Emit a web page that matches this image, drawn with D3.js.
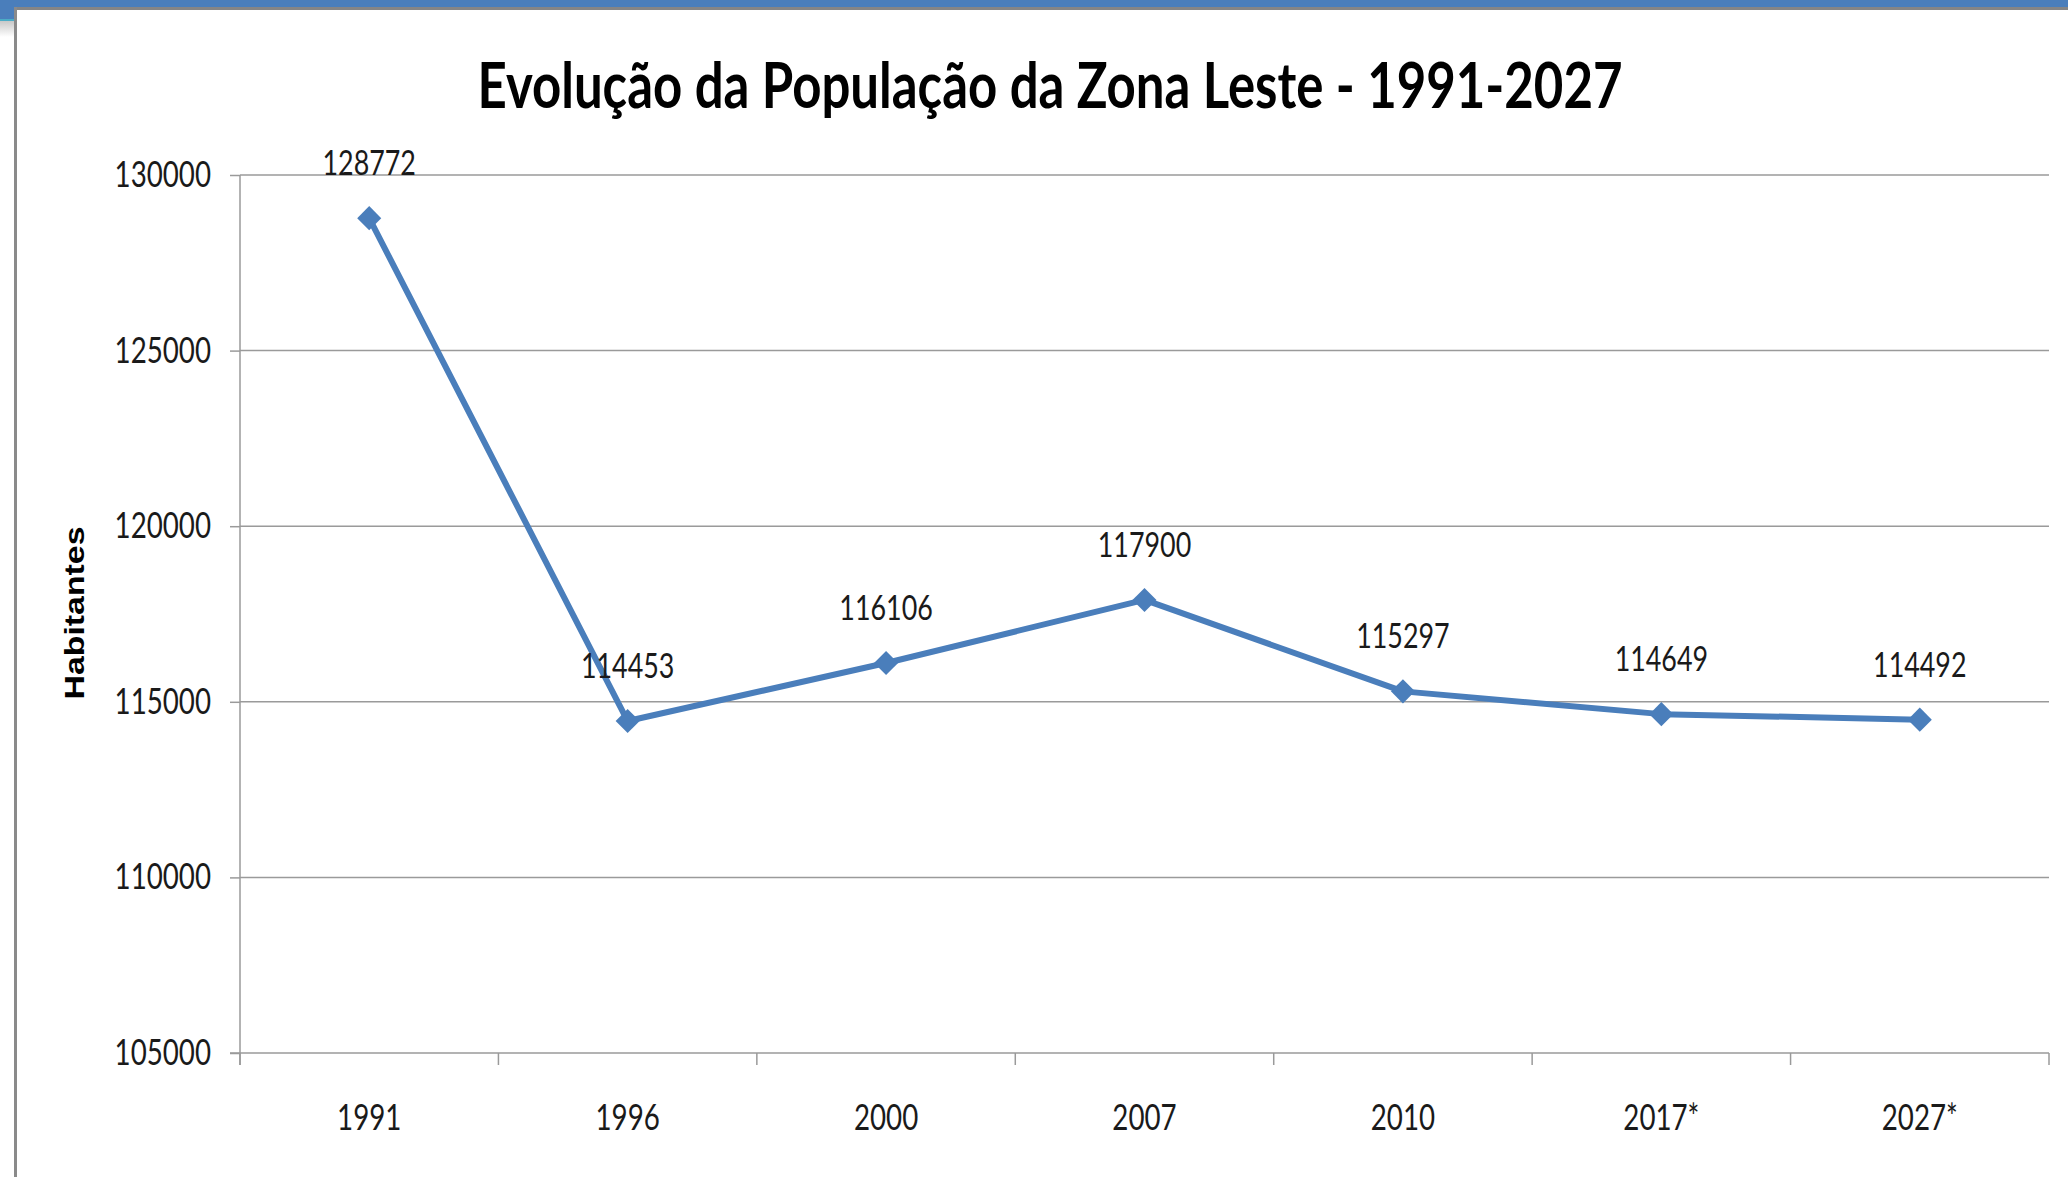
<!DOCTYPE html>
<html>
<head>
<meta charset="utf-8">
<script src="https://cdn.jsdelivr.net/npm/d3@7"></script>
<style>
  html, body { margin: 0; padding: 0; background: #fff; }
  svg { display: block; }
</style>
</head>
<body>
<div id="chart"></div>
<script>
const years = ["1991", "1996", "2000", "2007", "2010", "2017*", "2027*"];
const habitantes = [128772, 114453, 116106, 117900, 115297, 114649, 114492];
const yTicks = [105000, 110000, 115000, 120000, 125000, 130000];
const titulo = "Evolução da População da Zona Leste - 1991-2027";

const width = 2068, height = 1177;
const plotLeft = 240, plotRight = 2049, plotTop = 175, plotBottom = 1053;
const blue = "#4a7ebb";
const sx = 0.77; // text in the picture is squeezed sideways

const svg = d3.select("#chart").append("svg")
    .attr("width", width)
    .attr("height", height);

// frame / window chrome
svg.append("rect").attr("x", 0).attr("y", 0).attr("width", width).attr("height", 8).attr("fill", blue);
svg.append("rect").attr("x", 0).attr("y", 0).attr("width", 15).attr("height", 19).attr("fill", blue);
svg.append("rect").attr("x", 0).attr("y", 19).attr("width", 15).attr("height", 2).attr("fill", "#4bacc6");
const grad = svg.append("defs").append("linearGradient")
    .attr("id", "shade").attr("x1", 0).attr("y1", 0).attr("x2", 0).attr("y2", 1);
grad.append("stop").attr("offset", "0%").attr("stop-color", "#c8c8c8");
grad.append("stop").attr("offset", "100%").attr("stop-color", "#fff");
svg.append("rect").attr("x", 0).attr("y", 21).attr("width", 14).attr("height", 16).attr("fill", "url(#shade)");
svg.append("rect").attr("x", 14).attr("y", 7).attr("width", width - 14).attr("height", 3).attr("fill", "#858585");
svg.append("rect").attr("x", 14).attr("y", 7).attr("width", 3).attr("height", height - 7).attr("fill", "#8a8a8a");

function squeeze(sel, s) {
    sel.each(function () {
        const t = d3.select(this);
        const x = +t.attr("x") || 0, y = +t.attr("y") || 0;
        t.attr("x", 0).attr("y", 0)
            .attr("transform", `translate(${x},${y}) scale(${s},1)`);
    });
}

const x = d3.scaleBand().domain(years).range([plotLeft, plotRight]);
const y = d3.scaleLinear().domain([105000, 130000]).range([plotBottom, plotTop]);

// grid
svg.append("g")
    .selectAll("line")
    .data(yTicks.slice(1))
    .join("line")
    .attr("x1", plotLeft).attr("x2", plotRight)
    .attr("y1", d => y(d)).attr("y2", d => y(d))
    .attr("stroke", "#9a9a9a")
    .attr("stroke-width", 1.5);

// y axis
const yAxis = svg.append("g")
    .attr("transform", `translate(${plotLeft},0)`)
    .call(d3.axisLeft(y).tickValues(yTicks).tickSize(10).tickPadding(19).tickFormat(d3.format("d")));
yAxis.select(".domain").attr("stroke", "#9a9a9a").attr("stroke-width", 1.5)
    .attr("d", `M0,${plotTop}V${plotBottom + 12}`);
yAxis.selectAll(".tick line").attr("stroke", "#9a9a9a").attr("stroke-width", 1.5);
yAxis.selectAll(".tick text")
    .attr("font-family", "Lato, 'Open Sans', sans-serif")
    .attr("font-size", 36)
    .attr("fill", "#1a1a1a")
    .call(squeeze, sx);

// x axis
const xAxis = svg.append("g")
    .attr("transform", `translate(0,${plotBottom})`)
    .call(d3.axisBottom(x).tickSize(0).tickPadding(0));
xAxis.select(".domain").attr("stroke", "#9a9a9a").attr("stroke-width", 1.5)
    .attr("d", `M${plotLeft - 10},0H${plotRight}`);
xAxis.selectAll(".tick text")
    .attr("dy", null)
    .attr("y", 77)
    .attr("font-family", "Lato, 'Open Sans', sans-serif")
    .attr("font-size", 36)
    .attr("fill", "#1a1a1a")
    .call(squeeze, sx);
xAxis.append("g")
    .selectAll("line")
    .data(years.map(d => x(d)).concat([plotRight]))
    .join("line")
    .attr("x1", d => d).attr("x2", d => d)
    .attr("y1", 0).attr("y2", 12)
    .attr("stroke", "#9a9a9a")
    .attr("stroke-width", 1.5);

// line
const cx = d => x(d) + x.bandwidth() / 2;
const pts = years.map((d, i) => [cx(d), y(habitantes[i])]);
svg.append("path")
    .attr("d", d3.line()(pts))
    .attr("fill", "none")
    .attr("stroke", blue)
    .attr("stroke-width", 6)
    .attr("stroke-linejoin", "round");

svg.append("g")
    .selectAll("path")
    .data(pts)
    .join("path")
    .attr("d", d3.symbol(d3.symbolSquare, 290))
    .attr("transform", d => `translate(${d[0]},${d[1]}) rotate(45)`)
    .attr("fill", blue);

// data labels
svg.append("g")
    .selectAll("text")
    .data(pts)
    .join("text")
    .attr("x", d => d[0])
    .attr("y", d => d[1] - 43)
    .attr("text-anchor", "middle")
    .attr("font-family", "Lato, 'Open Sans', sans-serif")
    .attr("font-size", 34)
    .attr("fill", "#1a1a1a")
    .text((d, i) => habitantes[i])
    .call(squeeze, 0.79);

// title
svg.append("text")
    .attr("x", 1050)
    .attr("y", 108)
    .attr("text-anchor", "middle")
    .attr("font-family", "Lato, 'Open Sans', sans-serif")
    .attr("font-weight", 700)
    .attr("font-size", 64)
    .attr("textLength", 1145)
    .attr("lengthAdjust", "spacingAndGlyphs")
    .attr("fill", "#000")
    .text(titulo);

// y label
svg.append("text")
    .attr("transform", "translate(84,613) rotate(-90)")
    .attr("text-anchor", "middle")
    .attr("font-family", "'Liberation Sans', Arial, sans-serif")
    .attr("font-weight", 700)
    .attr("font-size", 28)
    .attr("textLength", 173)
    .attr("lengthAdjust", "spacingAndGlyphs")
    .attr("fill", "#000")
    .text("Habitantes");
</script>
</body>
</html>
